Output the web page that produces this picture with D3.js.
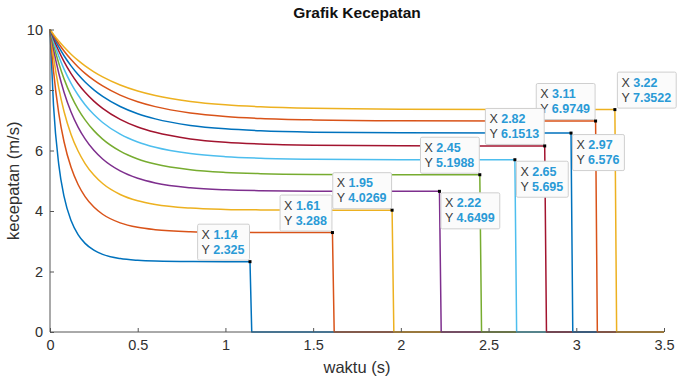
<!DOCTYPE html>
<html>
<head>
<meta charset="utf-8">
<script src="https://cdn.jsdelivr.net/npm/d3@7"></script>
<style>
  html, body { margin: 0; padding: 0; background: #fff; }
  svg { display: block; font-family: "Liberation Sans", Arial, Helvetica, sans-serif; }
</style>
</head>
<body>
<svg id="chart" width="680" height="377"></svg>
<script>
// Sample times (s) shared by every velocity series
const sampleTimes = [0, 0.02, 0.05, 0.08, 0.12, 0.16, 0.2, 0.25, 0.3, 0.4, 0.5, 0.6, 0.8, 1.0, 1.2, 1.5, 2.0];

// Velocity (m/s) at each sample time, one array per run
const v1  = [10, 7.485, 5.535, 4.483, 3.684, 3.220, 2.930, 2.705, 2.567, 2.426, 2.368, 2.343, 2.328, 2.326];
const v2  = [10, 8.632, 7.230, 6.290, 5.443, 4.875, 4.477, 4.131, 3.893, 3.608, 3.460, 3.382, 3.316, 3.297, 3.291, 3.288];
const v3  = [10, 9.097, 8.060, 7.291, 6.533, 5.982, 5.569, 5.188, 4.909, 4.547, 4.339, 4.216, 4.097, 4.053, 4.037, 4.029];
const v4  = [10, 9.350, 8.554, 7.928, 7.274, 6.774, 6.383, 6.005, 5.718, 5.324, 5.081, 4.928, 4.768, 4.700, 4.671, 4.656, 4.651];
const v5  = [10, 9.506, 8.883, 8.368, 7.813, 7.369, 7.012, 6.657, 6.377, 5.979, 5.721, 5.552, 5.362, 5.275, 5.234, 5.210, 5.201];
const v6  = [10, 9.614, 9.114, 8.690, 8.219, 7.834, 7.514, 7.188, 6.927, 6.541, 6.282, 6.105, 5.897, 5.796, 5.745, 5.713, 5.698];
const v7  = [10, 9.694, 9.289, 8.937, 8.539, 8.206, 7.923, 7.631, 7.391, 7.028, 6.776, 6.600, 6.384, 6.273, 6.215, 6.176, 6.156];
const v8  = [10, 9.754, 9.424, 9.132, 8.796, 8.510, 8.265, 8.005, 7.789, 7.455, 7.217, 7.046, 6.830, 6.715, 6.652, 6.607, 6.583];
const v9  = [10, 9.802, 9.530, 9.289, 9.006, 8.763, 8.551, 8.325, 8.133, 7.831, 7.612, 7.450, 7.242, 7.126, 7.060, 7.012, 6.984];
const v10 = [10, 9.840, 9.618, 9.420, 9.184, 8.978, 8.797, 8.601, 8.434, 8.166, 7.968, 7.819, 7.622, 7.510, 7.444, 7.393, 7.363];

// Time at which each run stops, and its steady velocity there (data tip values)
const stopTimes = [1.14, 1.61, 1.95, 2.22, 2.45, 2.65, 2.82, 2.97, 3.11, 3.22];
const steadyVelocity = [2.325, 3.288, 4.0269, 4.6499, 5.1988, 5.695, 6.1513, 6.576, 6.9749, 7.3522];

// Axis ticks
const xTicks = [0, 0.5, 1, 1.5, 2, 2.5, 3, 3.5];
const yTicks = [0, 2, 4, 6, 8, 10];

const velocities = [v1, v2, v3, v4, v5, v6, v7, v8, v9, v10];

// Line colours (default MATLAB colour order, cycling)
const palette = ["#0072BD", "#D95319", "#EDB120", "#7E2F8E", "#77AC30", "#4DBEEE", "#A2142F"];
// Which side of its point each data tip sits on
const tipSide = ["tl", "tl", "tl", "br", "tl", "br", "tl", "br", "tl", "tr"];

const svg = d3.select("#chart");
const plotLeft = 50, plotRight = 664, plotTop = 29.5, plotBottom = 332;
const tEndAxis = 3.5, step = 0.01;

const x = d3.scaleLinear().domain([0, 3.5]).range([plotLeft, plotRight]);
const y = d3.scaleLinear().domain([0, 10]).range([plotBottom, plotTop]);

const axisColor = "#555";
const textColor = "#303030";

// Title
svg.append("text")
  .attr("x", (plotLeft + plotRight) / 2).attr("y", 18)
  .attr("text-anchor", "middle")
  .attr("font-size", 15.5).attr("font-weight", "bold")
  .attr("fill", "#111")
  .text("Grafik Kecepatan");

// Build each run's path: sampled decay, steady part, drop to zero, rest at zero
const runs = velocities.map((vals, i) => {
  const pts = [];
  vals.forEach((v, k) => { if (sampleTimes[k] < stopTimes[i]) pts.push([sampleTimes[k], v]); });
  pts.push([stopTimes[i], steadyVelocity[i]]);
  return { smooth: pts, tail: [[stopTimes[i], steadyVelocity[i]], [stopTimes[i] + step, 0], [tEndAxis, 0]] };
});

const smoothLine = d3.line().x(d => x(d[0])).y(d => y(d[1])).curve(d3.curveMonotoneX);
const straightLine = d3.line().x(d => x(d[0])).y(d => y(d[1]));

const plot = svg.append("g");
runs.forEach((r, i) => {
  const d = smoothLine(r.smooth) + straightLine(r.tail).replace(/^M/, "L");
  plot.append("path")
    .attr("d", d)
    .attr("fill", "none")
    .attr("stroke", palette[i % palette.length])
    .attr("stroke-width", 1.5)
    .attr("stroke-linejoin", "round");
});

// Axes (MATLAB style: ticks pointing inward)
const xAxis = d3.axisBottom(x).tickValues(xTicks).tickSize(-4).tickPadding(8)
  .tickFormat(d => String(d));
const yAxis = d3.axisLeft(y).tickValues(yTicks).tickSize(-4).tickPadding(7)
  .tickFormat(d => String(d));

const gx = svg.append("g").attr("transform", `translate(0,${plotBottom})`).call(xAxis);
const gy = svg.append("g").attr("transform", `translate(${plotLeft},0)`).call(yAxis);
[gx, gy].forEach(g => {
  g.select(".domain").attr("stroke", axisColor).attr("stroke-width", 1);
  g.selectAll(".tick line").attr("stroke", axisColor);
  g.selectAll(".tick text").attr("fill", textColor).attr("font-size", 14.5)
    .attr("font-family", "Liberation Sans, Arial, sans-serif");
});
gx.select(".domain").attr("d", `M${plotLeft},0H${plotRight}`);
gy.select(".domain").attr("d", `M0,${plotBottom}V${plotTop}`);

// Axis labels
svg.append("text")
  .attr("x", (plotLeft + plotRight) / 2).attr("y", 373)
  .attr("text-anchor", "middle").attr("font-size", 16.5).attr("fill", textColor)
  .text("waktu (s)");
svg.append("text")
  .attr("transform", `translate(19,${(plotTop + plotBottom) / 2}) rotate(-90)`)
  .attr("text-anchor", "middle").attr("font-size", 16.5).attr("fill", textColor)
  .text("kecepatan (m/s)");

// Data tips, drawn from the last to the first so earlier ones sit on top
const tipLayer = svg.append("g");
const order = d3.range(stopTimes.length).reverse();
order.forEach(i => {
  const px = x(stopTimes[i]), py = y(steadyVelocity[i]);
  const g = tipLayer.append("g");
  const rect = g.append("rect").attr("fill", "#fbfbfb").attr("stroke", "#cfcfcf")
    .attr("stroke-width", 1).attr("rx", 1.5);
  const fs = 12.5;
  const t1 = g.append("text").attr("font-size", fs);
  t1.append("tspan").attr("fill", "#3c3c3c").text("X ");
  t1.append("tspan").attr("fill", "#2a9ad6").attr("font-weight", "bold").text(String(stopTimes[i]));
  const t2 = g.append("text").attr("font-size", fs);
  t2.append("tspan").attr("fill", "#3c3c3c").text("Y ");
  t2.append("tspan").attr("fill", "#2a9ad6").attr("font-weight", "bold").text(String(steadyVelocity[i]));
  const w = Math.max(t1.node().getComputedTextLength(), t2.node().getComputedTextLength()) + 9;
  const h = 36;
  let bx, by;
  const side = tipSide[i];
  if (side === "tl") { bx = px - 1 - w; by = py - 2 - h; }
  else if (side === "br") { bx = px + 1; by = py + 1; }
  else { bx = px + 2; by = py - 2 - h; }
  rect.attr("x", bx + 0.5).attr("y", by + 0.5).attr("width", w).attr("height", h);
  t1.attr("x", bx + 4.5).attr("y", by + 15);
  t2.attr("x", bx + 4.5).attr("y", by + 30);
  svg.append("rect").attr("x", px - 1.5).attr("y", py - 1.5).attr("width", 3).attr("height", 3).attr("fill", "#000");
});
</script>
</body>
</html>
